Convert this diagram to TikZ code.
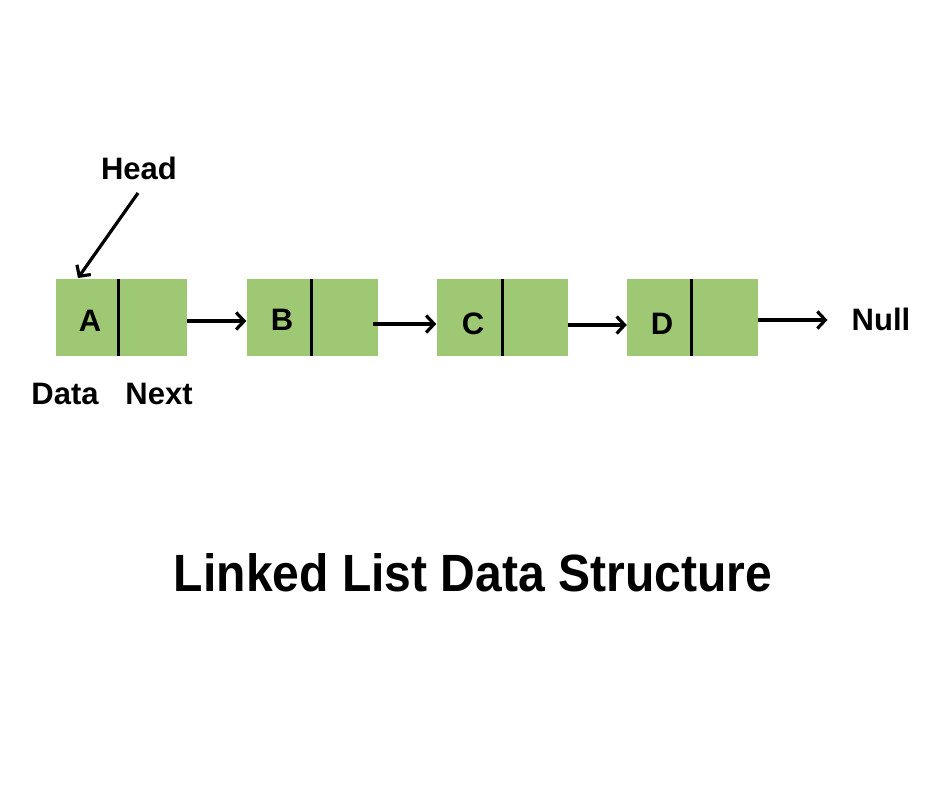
\documentclass[tikz,border=0pt]{standalone}
\usepackage{fontspec}
\setmainfont{Liberation Sans}
\usetikzlibrary{arrows.meta}
\definecolor{nodegreen}{RGB}{158,200,115}
\tikzset{
  cell/.style={rectangle, fill=nodegreen, minimum width=131pt, minimum height=77pt, inner sep=0pt},
  letter/.style={font=\fontsize{31}{34}\selectfont\bfseries, inner sep=0pt},
  lbl/.style={font=\fontsize{31}{34}\selectfont\bfseries, inner sep=0pt},
  divider/.style={line width=3pt},
  arr/.style={line width=3.2pt, -{Straight Barb[length=8pt,width=17pt,line width=3.2pt]}}
}
\begin{document}
\begin{tikzpicture}[x=1pt,y=-1pt]
\useasboundingbox[fill=white] (0,0) rectangle (940,788);
% cells
\node[cell] (A) at (121.5,317.5) {};
\node[cell] (B) at (312,317.5) {};
\node[cell] (C) at (502,317.5) {};
\node[cell] (D) at (692.5,317.5) {};
% dividers
\draw[divider] ([xshift=63pt]A.north west) -- ([xshift=63pt]A.south west);
\draw[divider] ([xshift=65pt]B.north west) -- ([xshift=65pt]B.south west);
\draw[divider] ([xshift=66pt]C.north west) -- ([xshift=66pt]C.south west);
\draw[divider] ([xshift=65pt]D.north west) -- ([xshift=65pt]D.south west);
% letters
\node[letter] (la) at (90,321) {A};
\node[letter] (lb) at (282,320) {B};
\node[letter] (lc) at (473,324) {C};
\node[letter] (ld) at (662,324) {D};
% labels
\node[lbl] (head) at (139,168) {Head};
\node[lbl] (data) at (65,394) {Data};
\node[lbl] (next) at (159,394) {Next};
\node[lbl] (null) at (881,319) {Null};
\coordinate (headtip) at (78,278);
\coordinate (headstart) at (138,193);
% connectors
\draw[arr] (headstart) -- (headtip);
\draw[arr] (A.east |- 0,321) -- (B.west |- 0,321);
\draw[arr] (373,324) -- (C.west |- 0,324);
\draw[arr] (C.east |- 0,325) -- (D.west |- 0,325);
\draw[arr] (D.east |- 0,320) -- ([xshift=-24pt]null.west |- 0,320);
% title
\node[inner sep=0pt] (title) at (473,573) {\resizebox{598pt}{38pt}{\bfseries Linked List Data Structure}};
\end{tikzpicture}
\end{document}
